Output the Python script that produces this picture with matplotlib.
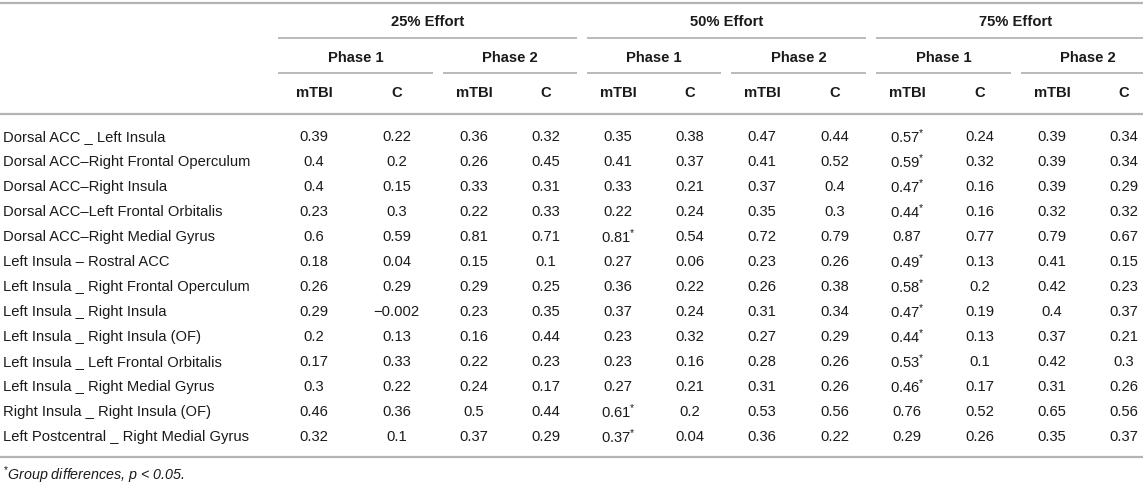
import matplotlib
matplotlib.use("Agg")
import matplotlib.pyplot as plt

plt.rcParams['font.family'] = ['Liberation Sans', 'DejaVu Sans']
plt.rcParams['mathtext.fontset'] = 'custom'
plt.rcParams['mathtext.rm'] = 'Liberation Sans'
plt.rcParams['mathtext.it'] = 'Liberation Sans:italic'
plt.rcParams['mathtext.bf'] = 'Liberation Sans:bold'

# ---------------- data ----------------
efforts = ["25% Effort", "50% Effort", "75% Effort"]
phases = ["Phase 1", "Phase 2"]
groups = ["mTBI", "C"]

connections = [
    "Dorsal ACC _ Left Insula",
    "Dorsal ACC\u2013Right Frontal Operculum",
    "Dorsal ACC\u2013Right Insula",
    "Dorsal ACC\u2013Left Frontal Orbitalis",
    "Dorsal ACC\u2013Right Medial Gyrus",
    "Left Insula \u2013 Rostral ACC",
    "Left Insula _ Right Frontal Operculum",
    "Left Insula _ Right Insula",
    "Left Insula _ Right Insula (OF)",
    "Left Insula _ Left Frontal Orbitalis",
    "Left Insula _ Right Medial Gyrus",
    "Right Insula _ Right Insula (OF)",
    "Left Postcentral _ Right Medial Gyrus",
]

e25_p1_mtbi = [0.39, 0.4, 0.4, 0.23, 0.6, 0.18, 0.26, 0.29, 0.2, 0.17, 0.3, 0.46, 0.32]
e25_p1_c    = [0.22, 0.2, 0.15, 0.3, 0.59, 0.04, 0.29, -0.002, 0.13, 0.33, 0.22, 0.36, 0.1]
e25_p2_mtbi = [0.36, 0.26, 0.33, 0.22, 0.81, 0.15, 0.29, 0.23, 0.16, 0.22, 0.24, 0.5, 0.37]
e25_p2_c    = [0.32, 0.45, 0.31, 0.33, 0.71, 0.1, 0.25, 0.35, 0.44, 0.23, 0.17, 0.44, 0.29]
e50_p1_mtbi = [0.35, 0.41, 0.33, 0.22, 0.81, 0.27, 0.36, 0.37, 0.23, 0.23, 0.27, 0.61, 0.37]
e50_p1_c    = [0.38, 0.37, 0.21, 0.24, 0.54, 0.06, 0.22, 0.24, 0.32, 0.16, 0.21, 0.2, 0.04]
e50_p2_mtbi = [0.47, 0.41, 0.37, 0.35, 0.72, 0.23, 0.26, 0.31, 0.27, 0.28, 0.31, 0.53, 0.36]
e50_p2_c    = [0.44, 0.52, 0.4, 0.3, 0.79, 0.26, 0.38, 0.34, 0.29, 0.26, 0.26, 0.56, 0.22]
e75_p1_mtbi = [0.57, 0.59, 0.47, 0.44, 0.87, 0.49, 0.58, 0.47, 0.44, 0.53, 0.46, 0.76, 0.29]
e75_p1_c    = [0.24, 0.32, 0.16, 0.16, 0.77, 0.13, 0.2, 0.19, 0.13, 0.1, 0.17, 0.52, 0.26]
e75_p2_mtbi = [0.39, 0.39, 0.39, 0.32, 0.79, 0.41, 0.42, 0.4, 0.37, 0.42, 0.31, 0.65, 0.35]
e75_p2_c    = [0.34, 0.34, 0.29, 0.32, 0.67, 0.15, 0.23, 0.37, 0.21, 0.3, 0.26, 0.56, 0.37]

# rows with significant group differences
e50_p1_mtbi_sig = [4, 11, 12]
e75_p1_mtbi_sig = [0, 1, 2, 3, 5, 6, 7, 8, 9, 10]

footnote = "Group differences, p < 0.05."

columns = [e25_p1_mtbi, e25_p1_c, e25_p2_mtbi, e25_p2_c,
           e50_p1_mtbi, e50_p1_c, e50_p2_mtbi, e50_p2_c,
           e75_p1_mtbi, e75_p1_c, e75_p2_mtbi, e75_p2_c]
sig = {4: e50_p1_mtbi_sig, 8: e75_p1_mtbi_sig}

# ---------------- layout ----------------
W, H = 1143, 484
fig = plt.figure(figsize=(W / 100, H / 100), dpi=100)
ax = fig.add_axes([0, 0, 1, 1])
ax.set_xlim(0, W)
ax.set_ylim(H, 0)
ax.axis('off')

edges = [273, 355, 438, 510, 582, 654, 726, 798, 871, 943, 1016, 1088, 1160]
txt_col = '#1a1a1a'
line_col = '#b4b4b4'
fs = 10.6

y_effort, y_eline = 22, 37.5
y_phase, y_pline = 58, 73
y_group, y_hline = 93, 113.5
y_top = 3
row0, row_h = 137, 25

def fmt(v):
    s = f"{v:g}"
    return s.replace('-', '\u2212')

# top line
ax.plot([0, W], [y_top, y_top], color=line_col, lw=1.6, solid_capstyle='butt')

# headers
for i, name in enumerate(efforts):
    l, r = edges[4 * i], edges[4 * i + 4]
    rr = min(r - 5, W)
    ax.text((l + r) / 2, y_effort, name, ha='center', va='center', fontsize=fs,
            fontweight='bold', color=txt_col)
    ax.plot([l + 5, rr], [y_eline, y_eline], color=line_col, lw=1.3, solid_capstyle='butt')
    for j, ph in enumerate(phases):
        pl, pr = edges[4 * i + 2 * j], edges[4 * i + 2 * j + 2]
        prr = min(pr - 5, W)
        ax.text((pl + pr) / 2, y_phase, ph, ha='center', va='center', fontsize=fs,
                fontweight='bold', color=txt_col)
        ax.plot([pl + 5, prr], [y_pline, y_pline], color=line_col, lw=1.3, solid_capstyle='butt')
        for k, g in enumerate(groups):
            c = 4 * i + 2 * j + k
            ax.text((edges[c] + edges[c + 1]) / 2, y_group, g, ha='center', va='center',
                    fontsize=fs, fontweight='bold', color=txt_col)

ax.plot([0, W], [y_hline, y_hline], color=line_col, lw=1.6, solid_capstyle='butt')

# body
for r, lab in enumerate(connections):
    y = row0 + r * row_h
    ax.text(3, y, lab, ha='left', va='center', fontsize=fs, color=txt_col)
    for c, col in enumerate(columns):
        s = fmt(col[r])
        if c in sig and r in sig[c]:
            s = s + r"$^{*}$"
        ax.text((edges[c] + edges[c + 1]) / 2, y, s, ha='center', va='center',
                fontsize=fs, color=txt_col)

y_bot = row0 + (len(connections) - 1) * row_h + 20
ax.plot([0, W], [y_bot, y_bot], color=line_col, lw=1.6, solid_capstyle='butt')

ax.text(3, y_bot + 18, r"$^{*}$" + footnote, ha='left', va='center', fontsize=10.3,
        style='italic', color=txt_col)

fig.savefig("out.png", dpi=100)
